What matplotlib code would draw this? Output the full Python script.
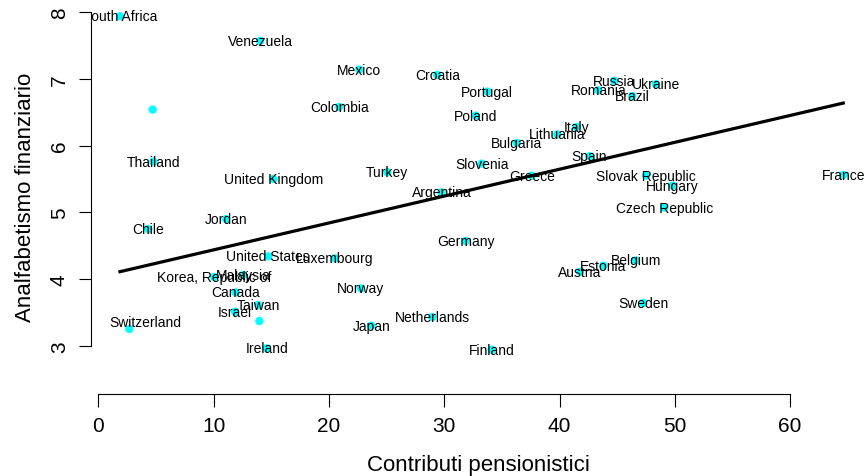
import matplotlib.pyplot as plt

# Paesi, contributi pensionistici (x) e analfabetismo finanziario (y)
paesi = ["South Africa", "Venezuela", "Mexico", "", "Colombia", "Thailand",
         "United Kingdom", "Croatia", "Portugal", "Poland", "Russia",
         "Romania", "Ukraine", "Brazil", "Italy", "Lithuania", "Bulgaria",
         "Slovenia", "Turkey", "Greece", "Spain", "Argentina",
         "Slovak Republic", "Hungary", "Czech Republic", "France", "Belgium",
         "Estonia", "Austria", "Sweden", "Jordan", "Chile", "United States",
         "Luxembourg", "Korea, Republic of", "Malaysia", "Canada", "Taiwan",
         "Israel", "", "Switzerland", "Ireland", "Norway", "Japan", "Germany",
         "Netherlands", "Finland"]
contributi = [1.88, 14.04, 22.64, 4.72, 20.90, 4.77,
              15.18, 29.40, 33.74, 32.73, 44.75,
              43.36, 48.37, 46.31, 41.49, 39.81, 36.29,
              33.25, 25.07, 37.59, 42.59, 29.78,
              47.50, 49.82, 49.09, 64.61, 46.63,
              43.80, 41.78, 47.27, 11.08, 4.34, 14.74,
              20.53, 10.06, 12.58, 11.92, 13.88,
              11.86, 13.97, 2.69, 14.60, 22.78, 23.68, 31.86,
              28.97, 34.12]
analfabetismo = [7.94, 7.57, 7.14, 6.54, 6.58, 5.76,
                 5.50, 7.06, 6.81, 6.45, 6.97,
                 6.83, 6.92, 6.74, 6.28, 6.17, 6.04,
                 5.73, 5.60, 5.55, 5.84, 5.30,
                 5.55, 5.40, 5.07, 5.56, 4.28,
                 4.20, 4.11, 3.64, 4.90, 4.75, 4.34,
                 4.31, 4.03, 4.06, 3.80, 3.61,
                 3.51, 3.37, 3.25, 2.96, 3.86, 3.30, 4.57,
                 3.43, 2.94]

# retta di regressione: intercetta e pendenza
intercetta = 4.034
pendenza = 0.0403

plt.rcParams['font.family'] = ['Liberation Sans', 'DejaVu Sans']

# spostamento di qualche etichetta rispetto al suo punto (unita' dei dati)
spost = {"Switzerland": (1.36, 0.1)}


def main():
    fig = plt.figure(figsize=(8.66, 4.77), dpi=100)
    ax = fig.add_axes([91 / 866, 82 / 477, 775 / 866, 395 / 477])

    ax.scatter(contributi, analfabetismo, s=36, color='#00FFFF',
               edgecolors='none', zorder=2)
    for nome, x, y in zip(paesi, contributi, analfabetismo):
        dx, dy = spost.get(nome, (0, 0))
        ax.text(x + dx, y + dy, nome, fontsize=10, ha='center', va='center',
                clip_on=True, zorder=3)

    x0, x1 = min(contributi), max(contributi)
    ax.plot([x0, x1], [intercetta + pendenza * x0, intercetta + pendenza * x1],
            color='black', linewidth=2.3, zorder=4)

    ax.set_xlim(-0.633, 66.58)
    ax.set_ylim(2.276, 8.198)

    ax.spines['top'].set_visible(False)
    ax.spines['right'].set_visible(False)
    ax.spines['bottom'].set_bounds(0, 60)
    ax.spines['left'].set_bounds(3, 8)

    ax.set_xticks(range(0, 61, 10))
    ax.set_yticks(range(3, 9))
    ax.tick_params(axis='both', length=9, width=0.8, labelsize=15, pad=7)
    for lab in ax.get_yticklabels():
        lab.set_rotation(90)
        lab.set_va('center')

    ax.set_xlabel('Contributi pensionistici', fontsize=16, labelpad=13.5)
    ax.set_ylabel('Analfabetismo finanziario', fontsize=16, labelpad=10)

    fig.savefig('out.png', dpi=100)


if __name__ == '__main__':
    main()
